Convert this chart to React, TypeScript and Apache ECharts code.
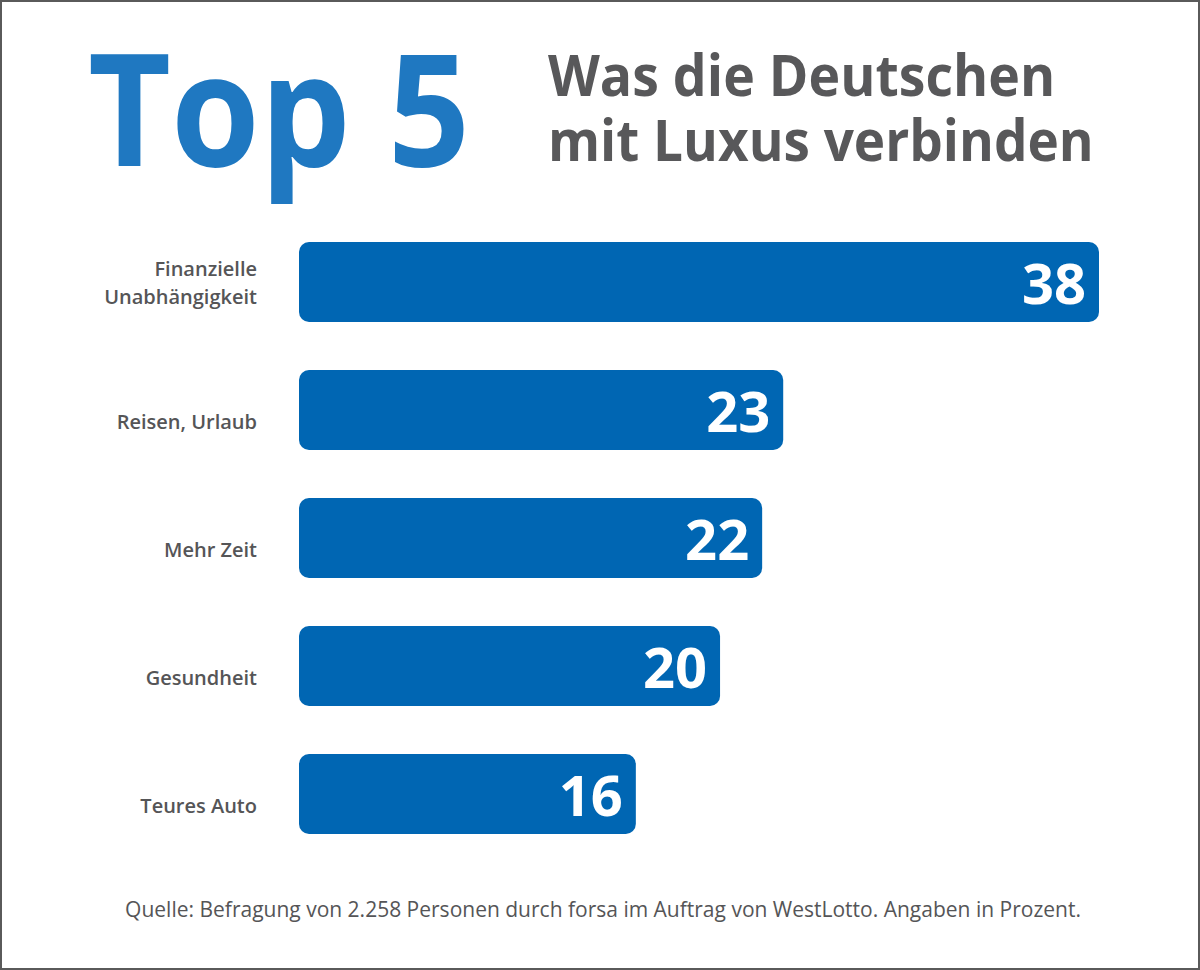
import React, { useEffect, useRef } from "react";
import * as echarts from "echarts";

const categories = ["Finanzielle\nUnabhängigkeit", "Reisen, Urlaub", "Mehr Zeit", "Gesundheit", "Teures Auto"];
const values = [38, 23, 22, 20, 16];
const titleMain = "Top 5";
const subtitleLines = ["Was die Deutschen", "mit Luxus verbinden"];
const sourceText = "Quelle: Befragung von 2.258 Personen durch forsa im Auftrag von WestLotto. Angaben in Prozent.";

export default function App() {
  const ref = useRef<HTMLDivElement>(null);
  useEffect(() => {
    document.body.style.margin = "0";
    const chart = echarts.init(ref.current!, null, { renderer: "svg" });
    chart.setOption({
      animation: false,
      backgroundColor: "#ffffff",
      grid: { left: 299, right: 101, top: 218, height: 640, containLabel: false },
      xAxis: { type: "value", min: 0, max: 38, show: false },
      yAxis: {
        type: "category",
        data: categories,
        inverse: true,
        axisLine: { show: false },
        axisTick: { show: false },
        axisLabel: {
          margin: 42,
          color: "#555557",
          fontSize: 20,
          fontWeight: 600,
          fontFamily: "Open Sans",
          lineHeight: 28,
          align: "right",
          formatter: (v: string) => (v.indexOf("\n") >= 0 ? v : "{s|" + v + "}"),
          rich: {
            s: {
              color: "#555557",
              fontSize: 20,
              fontWeight: 600,
              fontFamily: "Open Sans",
              padding: [22, 0, 0, 0],
            },
          },
        },
      },
      series: [
        {
          type: "bar",
          data: values,
          barWidth: 80,
          itemStyle: { color: "#0066b3", borderRadius: 10 },
          label: {
            show: true,
            position: "insideRight",
            distance: 13,
            color: "#ffffff",
            fontSize: 56,
            fontWeight: "bold",
            fontFamily: "Open Sans",
          },
        },
      ],
      graphic: [
        {
          type: "rect",
          shape: { x: 1, y: 1, width: 1198, height: 968 },
          style: { fill: "none", stroke: "#5a5a5a", lineWidth: 2 },
        },
        {
          type: "text",
          x: 88,
          y: 28,
          scaleX: 0.92,
          style: {
            text: titleMain,
            fill: "#1f78c1",
            font: "bold 156px 'Open Sans'",
            textAlign: "left",
            verticalAlign: "top",
          },
        },
        {
          type: "text",
          x: 548,
          y: 44,
          scaleX: 0.925,
          style: {
            text: subtitleLines[0],
            fill: "#58585a",
            font: "bold 58px 'Open Sans'",
            textAlign: "left",
            verticalAlign: "top",
          },
        },
        {
          type: "text",
          x: 548,
          y: 110,
          scaleX: 0.915,
          style: {
            text: subtitleLines[1],
            fill: "#58585a",
            font: "bold 58px 'Open Sans'",
            textAlign: "left",
            verticalAlign: "top",
          },
        },
        {
          type: "text",
          x: 603,
          y: 909,
          style: {
            text: sourceText,
            fill: "#555557",
            font: "21px 'Open Sans'",
            textAlign: "center",
            verticalAlign: "middle",
          },
        },
      ],
    });
    return () => chart.dispose();
  }, []);
  return <div ref={ref} style={{ width: 1200, height: 970 }} />;
}
